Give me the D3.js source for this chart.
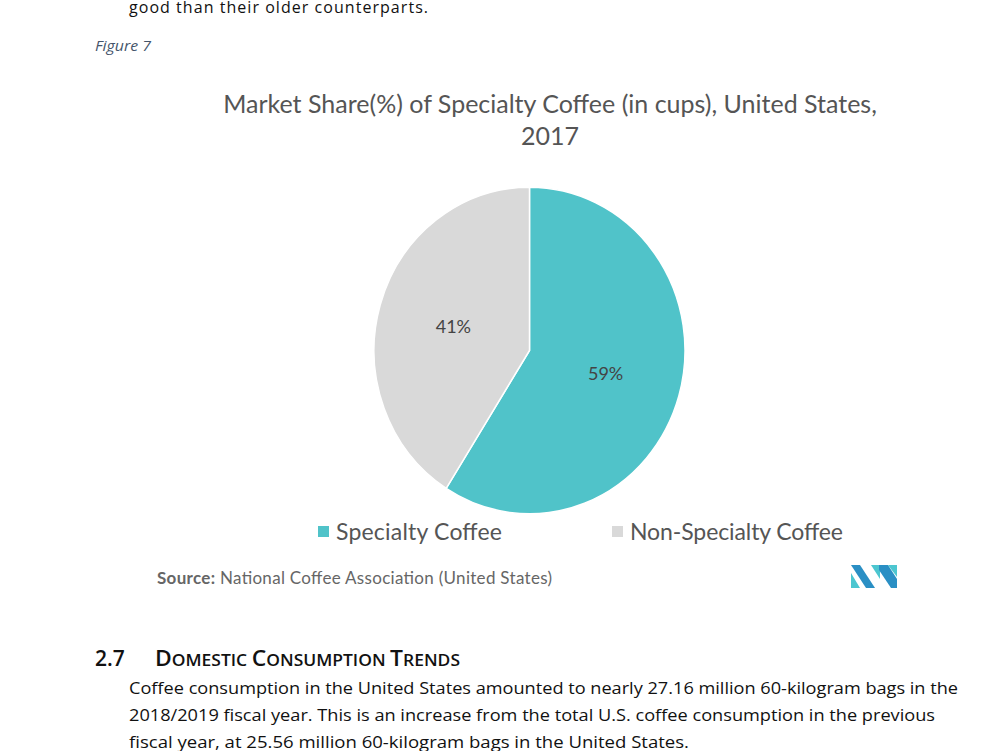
<!DOCTYPE html>
<html lang="en">
<head>
<meta charset="utf-8">
<title>Market Share of Specialty Coffee</title>
<script src="https://cdn.jsdelivr.net/npm/d3@7"></script>
<style>
  body { margin: 0; background: #fff; }
  svg { display: block; }
  .doc { font-family: "Open Sans", "Noto Sans", sans-serif; fill: #111; }
  .chart { font-family: Lato, "Noto Sans", sans-serif; }
</style>
</head>
<body>
<script>
// chart data
var categories = ["Specialty Coffee", "Non-Specialty Coffee"];
var shares = [59, 41];
var colors = ["#50C3C9", "#D9D9D9"];
var titleLines = ["Market Share(%) of Specialty Coffee (in cups), United States,", "2017"];

var w = 1000, h = 751;
var svg = d3.select("body").append("svg").attr("width", w).attr("height", h);

// surrounding report text
svg.append("text").attr("class", "doc").attr("x", 129).attr("y", 13)
   .attr("font-size", 16).attr("textLength", 299)
   .text("good than their older counterparts.");

svg.append("text").attr("x", 95).attr("y", 51)
   .attr("font-family", "Open Sans, sans-serif").attr("font-style", "italic")
   .attr("font-size", 14).attr("fill", "#44546A")
   .attr("textLength", 56).attr("lengthAdjust", "spacingAndGlyphs")
   .text("Figure 7");

// title
var title = svg.append("text").attr("class", "chart")
   .attr("text-anchor", "middle").attr("fill", "#555").attr("font-size", 25);
title.selectAll("tspan").data(titleLines).enter().append("tspan")
   .attr("x", 550)
   .attr("y", function(d, i) { return 113 + i * 32; })
   .text(function(d) { return d; });

// pie (source picture is slightly stretched vertically)
var r = 155.5;
var pie = d3.pie().sort(null).value(function(d) { return d; });
var arc = d3.arc().innerRadius(0).outerRadius(r);
var labelArc = d3.arc().innerRadius(r * 0.51).outerRadius(r * 0.51);
var arcs = pie(shares);

var g = svg.append("g").attr("transform", "translate(529.5,350.5) scale(1,1.05)");
g.selectAll("path").data(arcs).enter().append("path")
   .attr("d", arc)
   .attr("fill", function(d, i) { return colors[i]; })
   .attr("stroke", "#fff").attr("stroke-width", 1.5);

svg.selectAll("text.lbl").data(arcs).enter().append("text")
   .attr("class", "lbl chart")
   .attr("x", function(d) { return 529.5 + labelArc.centroid(d)[0]; })
   .attr("y", function(d) { return 350.5 + labelArc.centroid(d)[1] * 1.05 + 6; })
   .attr("text-anchor", "middle").attr("font-size", 18).attr("fill", "#444")
   .text(function(d) { return d.data + "%"; });

// legend
var legendX = [318, 612];
var legendLen = [166, 213];
var leg = svg.selectAll("g.leg").data(categories).enter().append("g")
   .attr("class", "leg")
   .attr("transform", function(d, i) { return "translate(" + legendX[i] + ",526)"; });
leg.append("rect").attr("width", 11).attr("height", 11)
   .attr("fill", function(d, i) { return colors[i]; });
leg.append("text").attr("class", "chart").attr("x", 18).attr("y", 14)
   .attr("font-size", 23).attr("fill", "#555")
   .attr("textLength", function(d, i) { return legendLen[i]; })
   .text(function(d) { return d; });

// source
var src = svg.append("text").attr("class", "chart").attr("x", 157).attr("y", 584)
   .attr("font-size", 17).attr("fill", "#666").attr("textLength", 395);
src.append("tspan").attr("font-weight", "bold").text("Source:");
src.append("tspan").text(" National Coffee Association (United States)");

// logo
var logo = svg.append("g").attr("transform", "translate(851,565)");
logo.append("polygon").attr("points", "0,0 9,0 24,23 15,23 0,0").attr("fill", "#2A8FC4");
logo.append("polygon").attr("points", "0,8 0,23 9,23").attr("fill", "#4CC6D0");
logo.append("polygon").attr("points", "20,0 29,0 29,14").attr("fill", "#4CC6D0");
logo.append("polygon").attr("points", "28,0 37,0 46,14 46,23 40,23 28,5").attr("fill", "#2A8FC4");
logo.append("polygon").attr("points", "37,0 46,0 46,12").attr("fill", "#4CC6D0");

// section heading
svg.append("text").attr("class", "doc").attr("x", 95).attr("y", 666)
   .attr("font-size", 21).attr("font-weight", "600").text("2.7");
var caps = svg.append("text").attr("class", "doc").attr("x", 155).attr("y", 666)
   .attr("font-weight", "600").attr("textLength", 305)
   .attr("lengthAdjust", "spacingAndGlyphs");
[["D", "OMESTIC "], ["C", "ONSUMPTION "], ["T", "RENDS"]].forEach(function(p) {
  caps.append("tspan").attr("font-size", 21).text(p[0]);
  caps.append("tspan").attr("font-size", 16).text(p[1]);
});

// body paragraph
var para = [
  ["Coffee consumption in the United States amounted to nearly 27.16 million 60-kilogram bags in the", 829],
  ["2018/2019 fiscal year. This is an increase from the total U.S. coffee consumption in the previous", 806],
  ["fiscal year, at 25.56 million 60-kilogram bags in the United States.", 560]
];
svg.selectAll("text.para").data(para).enter().append("text")
   .attr("class", "para doc")
   .attr("x", 129)
   .attr("y", function(d, i) { return 694 + i * 27; })
   .attr("font-size", 16)
   .attr("textLength", function(d) { return d[1]; })
   .attr("lengthAdjust", "spacingAndGlyphs")
   .text(function(d) { return d[0]; });
</script>
</body>
</html>
